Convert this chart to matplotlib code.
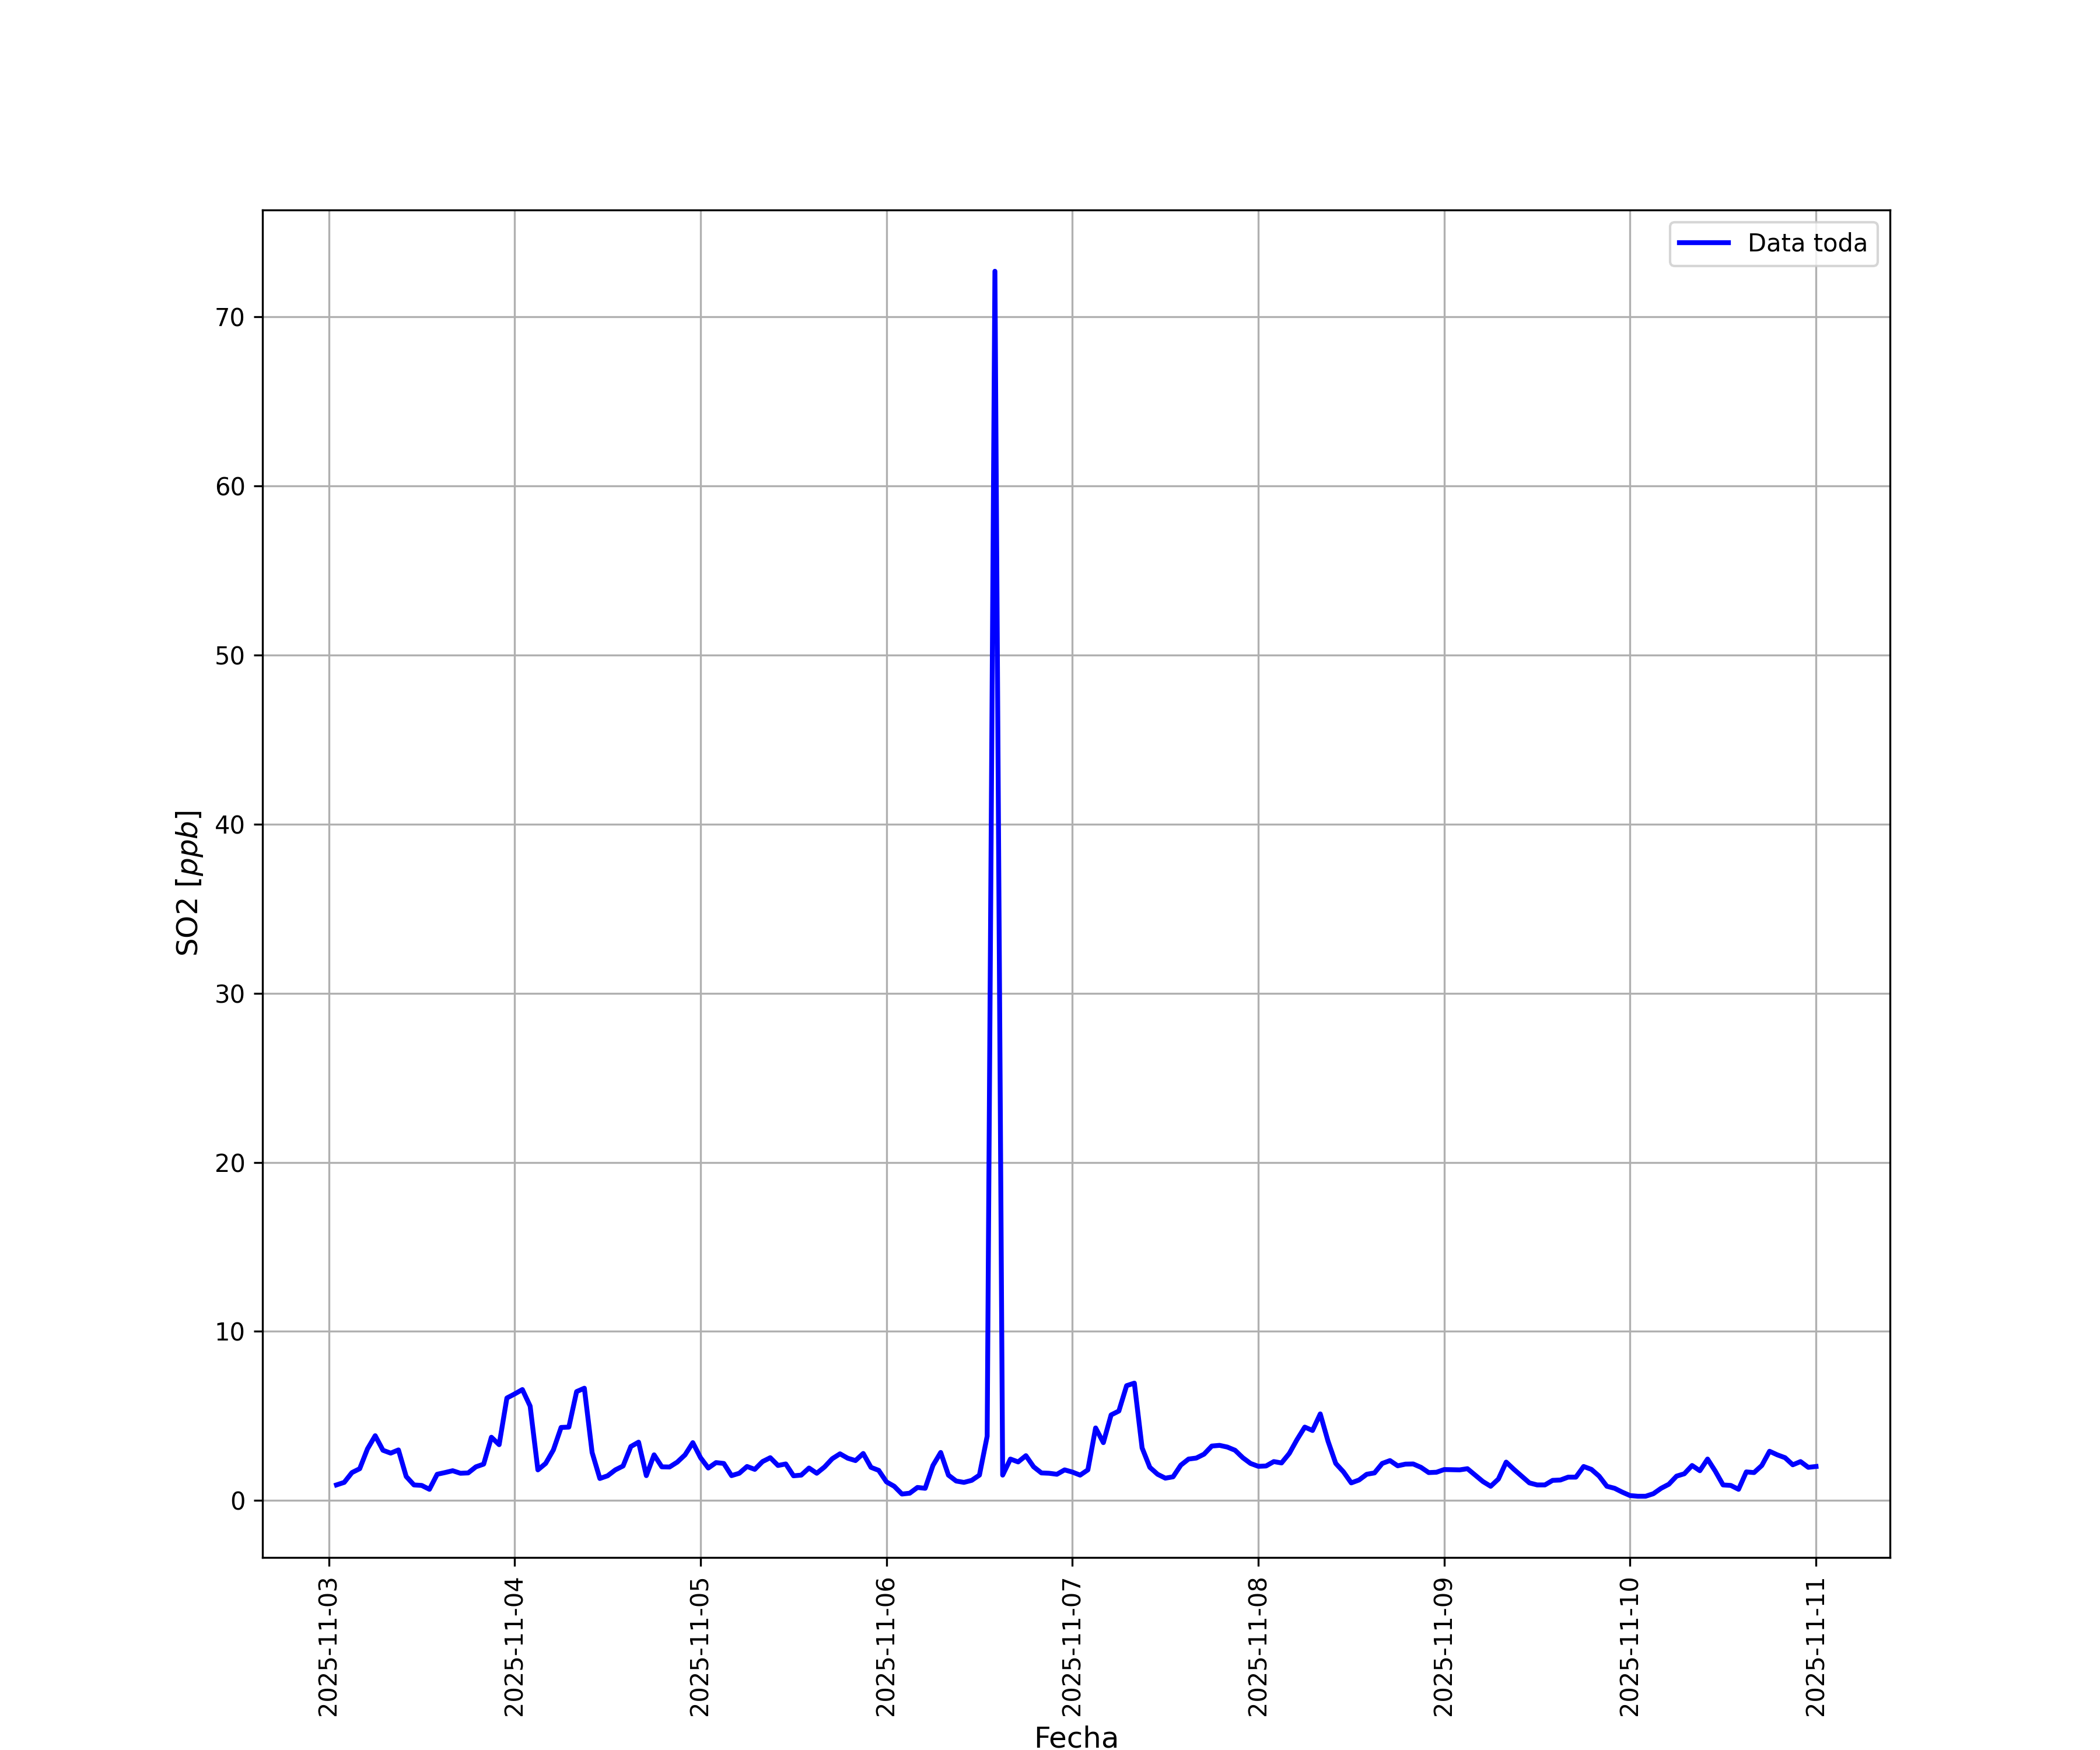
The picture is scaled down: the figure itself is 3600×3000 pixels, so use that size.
import pandas as pd
import matplotlib
matplotlib.use('Agg')
import matplotlib.pyplot as plt

# hourly SO2 readings, 2025-11-03 01:00 .. 2025-11-11 00:00
dia1 = [0.92, 1.07, 1.65, 1.88, 3.05, 3.83, 2.97, 2.80, 2.99, 1.42, 0.92, 0.89,
        0.66, 1.55, 1.65, 1.76, 1.61, 1.63, 1.99, 2.15, 3.74, 3.30, 6.06, 6.30]
dia2 = [6.56, 5.58, 1.81, 2.19, 2.99, 4.32, 4.34, 6.44, 6.64, 2.84, 1.30, 1.46,
        1.81, 2.04, 3.19, 3.45, 1.47, 2.70, 1.99, 1.98, 2.27, 2.70, 3.42, 2.53]
dia3 = [1.92, 2.24, 2.19, 1.47, 1.61, 2.01, 1.84, 2.30, 2.53, 2.07, 2.16, 1.46,
        1.50, 1.92, 1.61, 1.98, 2.47, 2.76, 2.50, 2.36, 2.78, 1.96, 1.78, 1.10]
dia4 = [0.84, 0.38, 0.43, 0.77, 0.72, 2.07, 2.84, 1.50, 1.15, 1.07, 1.19, 1.50,
        3.80, 72.7, 1.50, 2.45, 2.28, 2.65, 1.99, 1.63, 1.61, 1.55, 1.81, 1.68]
dia5 = [1.50, 1.81, 4.29, 3.42, 5.06, 5.29, 6.79, 6.94, 3.11, 1.96, 1.55, 1.32,
        1.40, 2.09, 2.45, 2.51, 2.74, 3.22, 3.26, 3.16, 2.97, 2.53, 2.19, 2.02]
dia6 = [2.04, 2.30, 2.22, 2.78, 3.60, 4.34, 4.14, 5.12, 3.51, 2.19, 1.69, 1.04,
        1.21, 1.55, 1.63, 2.19, 2.36, 2.05, 2.15, 2.16, 1.96, 1.65, 1.67, 1.83]
dia7 = [1.82, 1.81, 1.88, 1.50, 1.12, 0.84, 1.27, 2.27, 1.84, 1.44, 1.04, 0.92,
        0.92, 1.19, 1.21, 1.38, 1.38, 2.01, 1.84, 1.44, 0.84, 0.72, 0.49, 0.29]
dia8 = [0.25, 0.25, 0.40, 0.72, 0.96, 1.44, 1.58, 2.07, 1.76, 2.45, 1.73, 0.92,
        0.89, 0.66, 1.69, 1.65, 2.07, 2.91, 2.70, 2.53, 2.11, 2.30, 1.96, 2.01]

so2 = dia1 + dia2 + dia3 + dia4 + dia5 + dia6 + dia7 + dia8
fechas = pd.date_range('2025-11-03 01:00', periods=len(so2), freq='h')

fig, ax = plt.subplots(figsize=(12, 10), dpi=300)
ax.plot(fechas, so2, color='blue', linewidth=2, label='Data toda')
ax.set_xlabel('Fecha', fontsize=12)
ax.set_ylabel('SO2 [$ppb$]', fontsize=12)
plt.xticks(rotation=90)
ax.legend(loc='upper right')
ax.grid(True)
fig.savefig('out.png', dpi=300)
